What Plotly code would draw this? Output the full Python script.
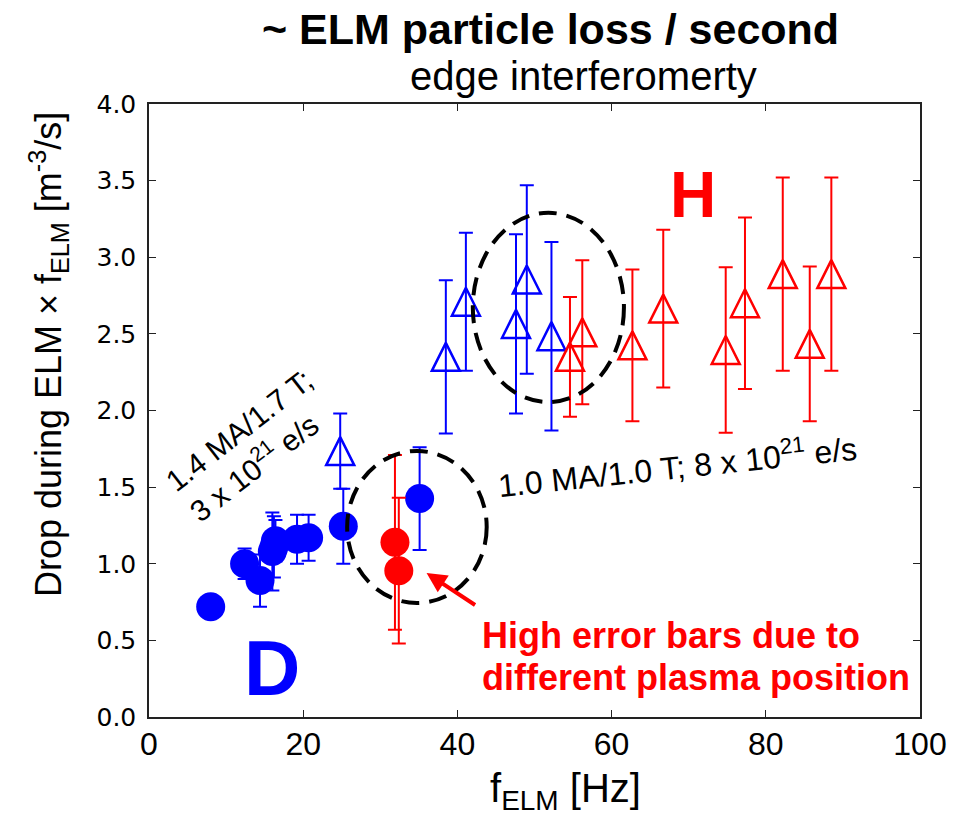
import plotly.graph_objects as go

# ---- data ----
# Deuterium, 1.4 MA / 1.7 T (filled blue circles)
d14_f = [8.0, 12.4, 14.4, 16.0, 16.2, 16.4, 19.2, 20.7, 25.2, 35.1]
d14_v = [0.72, 1.00, 0.89, 1.08, 1.11, 1.15, 1.16, 1.17, 1.245, 1.425]
d14_e = [0.0, 0.10, 0.17, 0.255, 0.20, 0.135, 0.16, 0.15, 0.245, 0.335]

# Deuterium, 1.0 MA / 1.0 T (open blue triangles)
d10_f = [24.8, 38.5, 41.1, 47.6, 49.0, 52.2]
d10_v = [1.735, 2.35, 2.71, 2.565, 2.855, 2.485]
d10_e = [0.245, 0.50, 0.45, 0.585, 0.615, 0.615]

# Hydrogen, 1.0 MA / 1.0 T (open red triangles)
h10_f = [54.6, 56.2, 62.7, 66.7, 74.8, 77.3, 82.2, 85.7, 88.5]
h10_v = [2.35, 2.51, 2.425, 2.665, 2.395, 2.70, 2.89, 2.435, 2.89]
h10_e = [0.39, 0.47, 0.495, 0.515, 0.54, 0.56, 0.63, 0.505, 0.63]

# Hydrogen, 1.4 MA (filled red circles)
h14_f = [31.9, 32.4]
h14_v = [1.14, 0.955]
h14_e = [0.57, 0.475]

x_ticks = [0, 20, 40, 60, 80, 100]
y_ticks = [0.0, 0.5, 1.0, 1.5, 2.0, 2.5, 3.0, 3.5, 4.0]

# dashed highlight ellipses [x0, x1, y0, y1]
ellipse_upper = [42.0, 61.6, 2.055, 3.29]
ellipse_lower = [25.7, 43.8, 0.744, 1.736]

BLUE = "#0000FF"
RED = "#FF0000"
SANS = "Liberation Sans, Arial, sans-serif"

fig = go.Figure()

TRI = dict(symbol="arrow-down-open", angle=180, size=28, standoff=14)


def err(vals, color):
    return dict(type="data", array=vals, visible=True, color=color,
                thickness=2, width=7)


fig.add_trace(go.Scatter(
    x=d10_f, y=d10_v, mode="markers", error_y=err(d10_e, BLUE),
    marker=dict(color=BLUE, line=dict(color=BLUE, width=2.5), **TRI),
    showlegend=False))
fig.add_trace(go.Scatter(
    x=h10_f, y=h10_v, mode="markers", error_y=err(h10_e, RED),
    marker=dict(color=RED, line=dict(color=RED, width=2.5), **TRI),
    showlegend=False))
fig.add_trace(go.Scatter(
    x=d14_f, y=d14_v, mode="markers", error_y=err(d14_e, BLUE),
    marker=dict(symbol="circle", size=29, color=BLUE, line=dict(width=0)),
    showlegend=False))
fig.add_trace(go.Scatter(
    x=h14_f, y=h14_v, mode="markers", error_y=err(h14_e, RED),
    marker=dict(symbol="circle", size=29, color=RED, line=dict(width=0)),
    showlegend=False))

for e in (ellipse_upper, ellipse_lower):
    fig.add_shape(type="circle", xref="x", yref="y",
                  x0=e[0], x1=e[1], y0=e[2], y1=e[3],
                  line=dict(color="black", width=4, dash="18px,10px"),
                  layer="above")

ann = [
    dict(text="<b>~ ELM particle loss / second</b>", xref="paper", yref="paper",
         x=0.5214, y=1.122, font=dict(family=SANS, size=43, color="black")),
    dict(text="edge interferomerty", xref="paper", yref="paper",
         x=0.563, y=1.045, font=dict(family=SANS, size=40, color="black")),
    dict(text="Drop during ELM × f<sub>ELM</sub> [m<sup>-3</sup>/s]",
         xref="paper", yref="paper", x=-0.131, y=0.592, textangle=-90,
         font=dict(family=SANS, size=36, color="black")),
    dict(text="f<sub>ELM</sub> [Hz]", xref="paper", yref="paper",
         x=0.5396, y=-0.12, font=dict(family=SANS, size=40, color="black")),
    dict(text="<b>H</b>", x=70.6, y=3.406,
         font=dict(family=SANS, size=64, color=RED)),
    dict(text="<b>D</b>", x=16.0, y=0.32,
         font=dict(family=SANS, size=78, color=BLUE)),
    dict(text="1.4 MA/1.7 T;<br>3 x 10<sup>21</sup> e/s", x=13.2, y=1.77,
         textangle=-38, align="left",
         font=dict(family=SANS, size=30, color="black")),
    dict(text="1.0 MA/1.0 T; 8 x 10<sup>21</sup> e/s", x=68.5, y=1.644,
         textangle=-6, font=dict(family=SANS, size=32, color="black")),
    dict(text="<b>High error bars due to</b>", x=43.1, y=(717 - 635) / 153.25,
         xanchor="left", font=dict(family=SANS, size=36, color=RED)),
    dict(text="<b>different plasma position</b>", x=43.1, y=(717 - 677) / 153.25,
         xanchor="left", font=dict(family=SANS, size=36, color=RED)),
]
for a in ann:
    a.setdefault("showarrow", False)
    a.setdefault("xanchor", "center")
    a.setdefault("yanchor", "middle")
    a.setdefault("borderpad", 0)
    fig.add_annotation(**a)

fig.add_annotation(x=36.0, y=0.94, ax=50, ay=33, text="", showarrow=True,
                   arrowcolor=RED, arrowwidth=4, arrowhead=2, arrowsize=1)

axis_common = dict(showline=True, linecolor="#222", linewidth=1.5, mirror="ticks",
                   ticks="inside", ticklen=7, tickcolor="#222", tickwidth=1.2,
                   showgrid=False, zeroline=False)

fig.update_xaxes(range=[0, 100], tickvals=x_ticks, ticktext=[str(v) for v in x_ticks],
                 ticklabelstandoff=-2,
                 tickfont=dict(family=SANS, size=32, color="black"), **axis_common)
fig.update_yaxes(range=[0, 4], tickvals=y_ticks, tickformat=".1f",
                 ticklabelstandoff=6,
                 tickfont=dict(family="DejaVu Sans", size=25, color="black"), **axis_common)

fig.update_layout(width=965, height=819, margin=dict(l=149, r=45, t=104, b=102),
                  plot_bgcolor="white", paper_bgcolor="white")

fig.write_html("out.html")
